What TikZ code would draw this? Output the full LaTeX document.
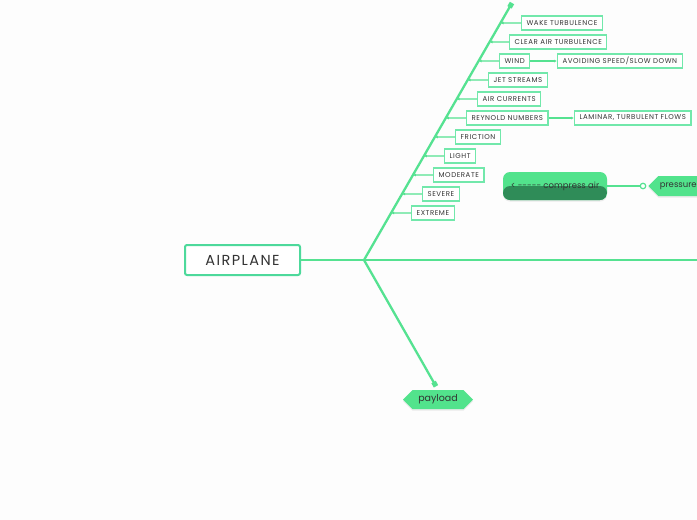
\documentclass[tikz,border=0pt]{standalone}
\usepackage{fontspec}
\setmainfont{Poppins}
\usepackage{xcolor}
\usetikzlibrary{shapes.symbols, arrows.meta, positioning, calc, shadows}

\definecolor{stem}{HTML}{55E291}
\definecolor{edge}{HTML}{72E8AB}
\definecolor{rim}{HTML}{4DD99B}
\definecolor{ink}{HTML}{333333}
\definecolor{leafy}{HTML}{52E38C}
\definecolor{deepleaf}{HTML}{2F8C58}
\definecolor{paper}{HTML}{FDFDFD}

\begin{document}
\begin{tikzpicture}[
  x=1pt, y=-1pt,
  font=\fontsize{7}{8}\selectfont,
  topic/.style={draw=rim, line width=2pt, rounded corners=2pt, fill=white,
                minimum width=115pt, minimum height=30pt, text=ink,
                font=\fontsize{14.5}{16}\selectfont\addfontfeature{LetterSpace=10}},
  leaf/.style={draw=edge, line width=1.2pt, fill=white, anchor=west,
               minimum height=14pt, inner xsep=5pt, inner ysep=0pt, text=ink,
               font=\fontsize{7}{8}\selectfont\addfontfeature{LetterSpace=8}},
  tag/.style={signal, signal to=west and east, fill=leafy, text=ink,
              minimum height=19pt, inner sep=1pt,
              font=\fontsize{9.5}{11}\selectfont,
              drop shadow={opacity=0.15, shadow xshift=0pt, shadow yshift=-1.5pt}},
  capsule/.style={rounded corners=7pt, fill=leafy, text=ink,
                  minimum width=104pt, minimum height=28pt, inner sep=1pt,
                  font=\fontsize{8.5}{10}\selectfont,
                  path picture={\fill[deepleaf] (path picture bounding box.west)
                    rectangle (path picture bounding box.south east);},
                  drop shadow={opacity=0.15, shadow xshift=0pt, shadow yshift=-1.5pt}},
  branch/.style={draw=stem, line width=2.3pt},
  twig/.style={draw=stem, line width=1.2pt, -{Latex[length=3pt,width=3pt]}},
]
\fill[paper] (0,0) rectangle (697,520);
\clip (0,0) rectangle (697,520);

% Central topic and main lines
\node[topic] (airplane) at (242.5,260) {AIRPLANE};
\coordinate (hub)   at (364,260);
\coordinate (crest) at (512,3);
\coordinate (far)   at (760,260);

\draw[branch] (airplane.east) -- (hub);
\draw[branch] (hub) -- (far);
\draw[branch, -{Square[length=5pt,width=5pt]}] (hub) -- (crest);

% Payload branch
\node[tag, minimum width=70pt] (payload) at (438,399.5) {payload};
\draw[branch, -{Square[length=5pt,width=5pt]}, shorten >=4pt] (hub) -- (payload.north);

% Subtopics on the upper branch
\node[leaf] (wake)     at (521,23)  {WAKE TURBULENCE};
\node[leaf] (clear)    at (509,42)  {CLEAR AIR TURBULENCE};
\node[leaf] (wind)     at (499,61)  {WIND};
\node[leaf] (avoid)    at (557,61)  {AVOIDING SPEED/SLOW DOWN};
\node[leaf] (jet)      at (488,80)  {JET STREAMS};
\node[leaf] (currents) at (477,99)  {AIR CURRENTS};
\node[leaf] (reynold)  at (466,118) {REYNOLD NUMBERS};
\node[leaf] (laminar)  at (574,118) {LAMINAR, TURBULENT FLOWS};
\node[leaf] (friction) at (455,137) {FRICTION};
\node[leaf] (light)    at (444,156) {LIGHT};
\node[leaf] (moderate) at (433,175) {MODERATE};
\node[leaf] (severe)   at (422,194) {SEVERE};
\node[leaf] (extreme)  at (411,213) {EXTREME};

% Connectors back to the branch
\foreach \n in {wake, clear, wind, jet, currents, reynold,
                friction, light, moderate, severe, extreme}
  \draw[twig] (\n.west) -- (intersection of hub--crest and \n.west--\n.east);

\draw[twig] (wind.east)    -- (avoid.west);
\draw[twig] (reynold.east) -- (laminar.west);

% Compress air / pressure
\node[capsule] (compress) at (555,186) {<\ -{}-{}-{}-{}- compress air};
\node[tag, signal to=west, minimum width=50pt, minimum height=20pt,
      font=\fontsize{8.5}{10}\selectfont, anchor=west] (pressure) at (648,186) {pressure};
\node[circle, draw=stem, line width=1.2pt, fill=white, inner sep=0pt,
      minimum size=5.5pt] (knob) at (643,186) {};
\draw[draw=stem, line width=1.2pt] (compress.east) -- (knob.west);
\end{tikzpicture}
\end{document}
